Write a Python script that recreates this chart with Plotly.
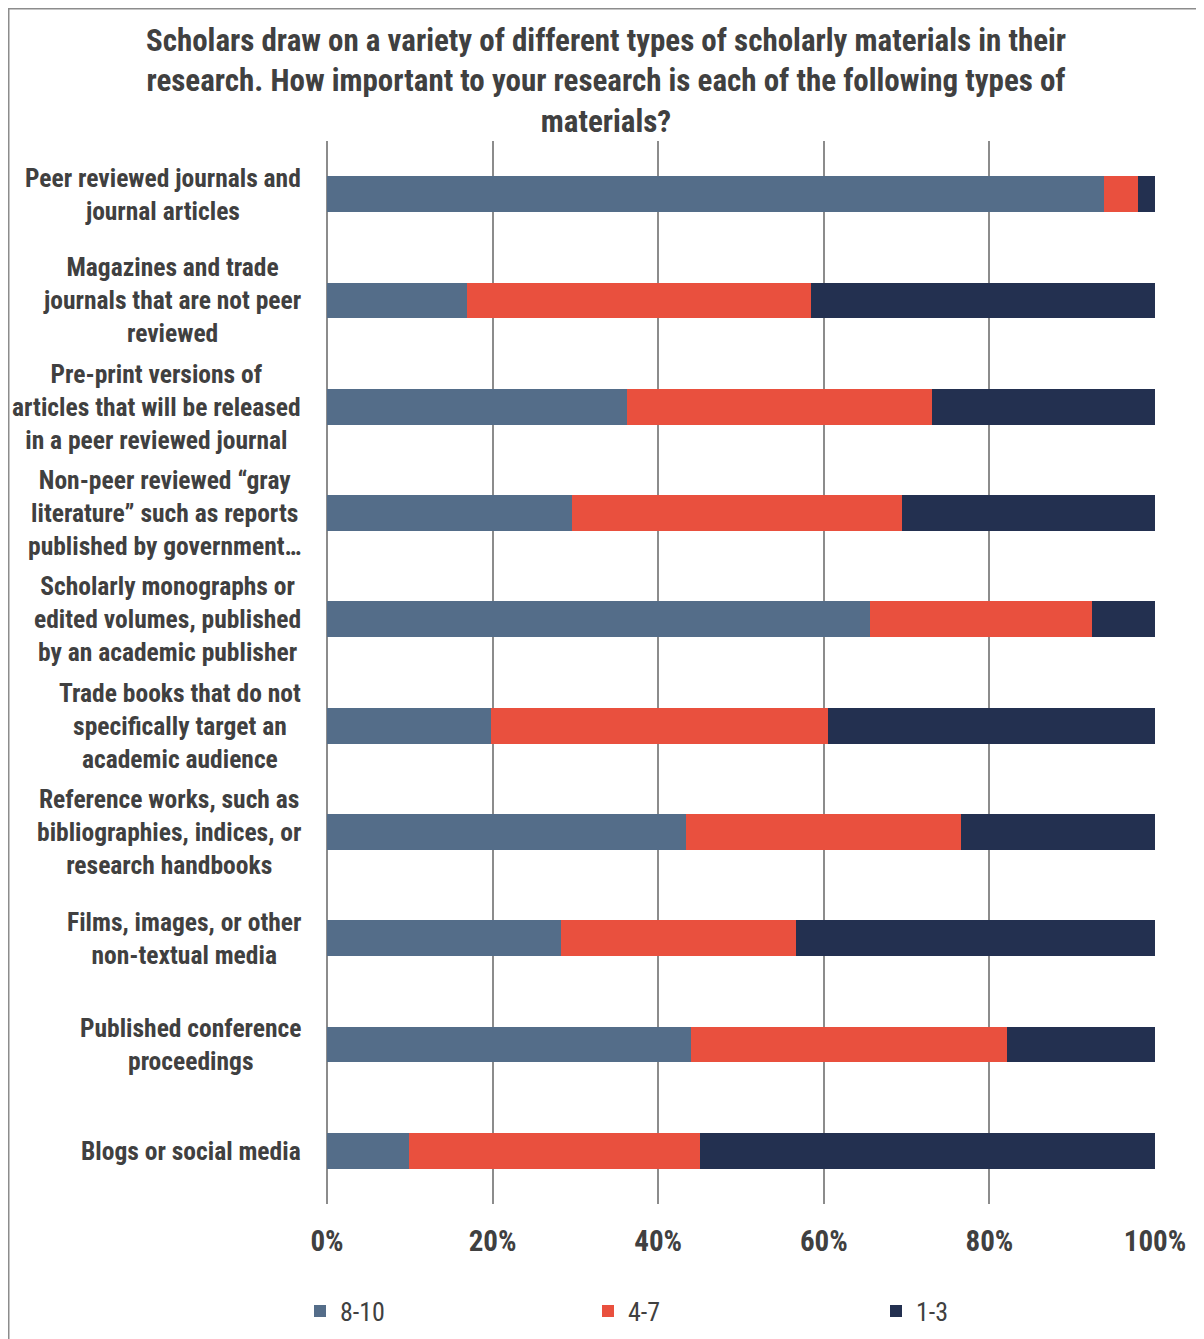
import plotly.graph_objects as go

categories = [
    "Peer reviewed journals and<br>journal articles",
    "Magazines and trade<br>journals that are not peer<br>reviewed",
    "Pre-print versions of<br>articles that will be released<br>in a peer reviewed journal",
    "Non-peer reviewed “gray<br>literature” such as reports<br>published by government…",
    "Scholarly monographs or<br>edited volumes, published<br>by an academic publisher",
    "Trade books that do not<br>specifically target an<br>academic audience",
    "Reference works, such as<br>bibliographies, indices, or<br>research handbooks",
    "Films, images, or other<br>non-textual media",
    "Published conference<br>proceedings",
    "Blogs or social media",
]
high_8_10 = [93.8, 16.9, 36.2, 29.6, 65.6, 19.8, 43.3, 28.3, 44.0, 9.9]
mid_4_7 = [4.1, 41.6, 36.9, 39.8, 26.8, 40.7, 33.3, 28.3, 38.1, 35.2]
low_1_3 = [2.1, 41.5, 26.9, 30.6, 7.6, 39.5, 23.4, 43.4, 17.9, 54.9]
series_names = ["8-10", "4-7", "1-3"]
tick_vals = [0, 20, 40, 60, 80, 100]
tick_text = ["0%", "20%", "40%", "60%", "80%", "100%"]
title_text = ("Scholars draw on a variety of different types of scholarly materials in their<br>"
              "research. How important to your research is each of the following types of<br>"
              "materials?")

FONT = "Liberation Sans Narrow, Arial Narrow, Roboto Condensed, DejaVu Sans Condensed, sans-serif"
TXT = "#404040"
colors = ["#546D89", "#E9503E", "#233050"]

OFF = 8  # page body margin
W, H = 1204 - OFF, 1339 - OFF
L, T = 327 - OFF, 141 - OFF
R = W - (1155 - OFF)
B = H - (1204 - OFF)
PW, PH = W - L - R, H - T - B

def px2x(px):  # picture px -> paper x
    return (px - OFF - L) / PW

def py2y(py):  # picture px -> paper y
    return (H - B - (py - OFF)) / PH

idx = list(range(len(categories)))

fig = go.Figure()
for name, vals, col in zip(series_names, [high_8_10, mid_4_7, low_1_3], colors):
    fig.add_trace(go.Bar(
        y=idx, x=vals, name=name, orientation="h",
        marker=dict(color=col, line=dict(width=0)),
    ))

for i, cat in enumerate(categories):
    fig.add_annotation(
        x=px2x(303), y=i, xref="paper", yref="y",
        text=cat, showarrow=False, xanchor="right", yanchor="middle",
        align="center",
        font=dict(family=FONT, size=25.5, color=TXT, weight="bold"),
    )

# outer frame
fig.add_shape(type="rect", xref="paper", yref="paper",
              x0=px2x(OFF + 0.75), x1=px2x(1230), y0=py2y(1360), y1=py2y(OFF + 0.75),
              line=dict(color="#8c8c8c", width=1.5), fillcolor="rgba(0,0,0,0)", layer="below")

fig.update_layout(
    width=W, height=H,
    margin=dict(l=L, r=R, t=T, b=B, autoexpand=False),
    paper_bgcolor="white", plot_bgcolor="white",
    barmode="stack", bargap=0.664,
    title=dict(text=title_text, x=0.5, xref="container", xanchor="center",
               y=1 - 43 / H, yref="container", yanchor="top",
               font=dict(family=FONT, size=31, color=TXT, weight="bold")),
    xaxis=dict(range=[0, 100], tickvals=tick_vals, ticktext=tick_text,
               showgrid=True, gridcolor="#8c8c8c", gridwidth=1.5,
               zeroline=True, zerolinecolor="#8c8c8c", zerolinewidth=1.5,
               showline=False, ticks="", ticklabelstandoff=17, automargin=False,
               tickfont=dict(family=FONT, size=29, color=TXT, weight="bold"),
               fixedrange=True),
    yaxis=dict(range=[len(categories) - 0.5, -0.5], showticklabels=False, automargin=False,
               showgrid=False, zeroline=False, showline=False, ticks=""),
    legend=dict(orientation="h", x=px2x(300), xanchor="left",
                y=py2y(1311), yanchor="middle", entrywidth=243,
                entrywidthmode="pixels", traceorder="normal",
                font=dict(family=FONT, size=26, color=TXT)),
    showlegend=True,
)

fig.write_html("out.html")
